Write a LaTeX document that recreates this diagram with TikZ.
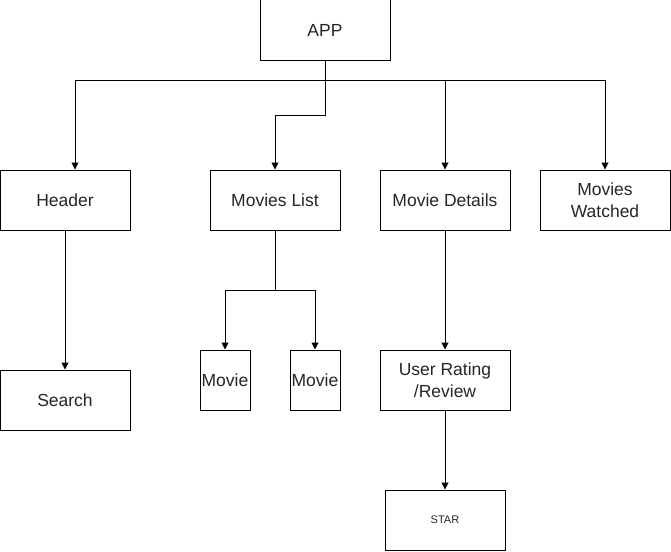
\documentclass[tikz,border=0pt]{standalone}
\usepackage{fontspec}
\setmainfont{Liberation Sans}
\usetikzlibrary{arrows.meta}
\begin{document}
\begin{tikzpicture}[x=1pt,y=-1pt,
  box/.style={draw=black,line width=1pt,fill=white,inner sep=0pt,align=center,
    font=\fontsize{17.5}{22}\selectfont,text=black!85},
  conn/.style={draw=black,line width=1pt,-{Triangle[length=7pt,width=7pt]}},
  plain/.style={draw=black,line width=1pt}]
\useasboundingbox (0,0) rectangle (671,551);
% nodes: centre, size
\node[box,minimum width=130pt,minimum height=60pt] (app) at (325,30) {APP};
\node[box,minimum width=130pt,minimum height=60pt] (header) at (65,200) {Header};
\node[box,minimum width=130pt,minimum height=60pt] (list) at (275,200) {Movies List};
\node[box,minimum width=130pt,minimum height=60pt] (details) at (445,200) {Movie Details};
\node[box,minimum width=130pt,minimum height=60pt] (watched) at (605,200) {Movies\\Watched};
\node[box,minimum width=130pt,minimum height=60pt] (search) at (65,400) {Search};
\node[box,minimum width=50pt,minimum height=60pt] (m1) at (225,380) {Movie};
\node[box,minimum width=50pt,minimum height=60pt] (m2) at (315,380) {Movie};
\node[box,minimum width=130pt,minimum height=60pt] (rating) at (445,380) {User Rating\\/Review};
\node[box,minimum width=120pt,minimum height=60pt,font=\fontsize{11}{13}\selectfont] (star) at (445,520) {STAR};
% junctions
\coordinate (j) at (325,80);
\coordinate (jl) at (275,290);
% connectors
\draw[conn] (app.south) -- (j) -| (header.north -| 75,0);
\draw[conn] (app.south) -- (325,115) -| (list.north);
\draw[conn] (j) -| (details.north);
\draw[conn] (j) -| (watched.north);
\draw[conn] (header.south) -- (search.north);
\draw[plain] (list.south) -- (jl);
\draw[conn] (jl) -| (m1.north);
\draw[conn] (jl) -| (m2.north);
\draw[conn] (details.south) -- (rating.north);
\draw[conn] (rating.south) -- (star.north);
\end{tikzpicture}
\end{document}
